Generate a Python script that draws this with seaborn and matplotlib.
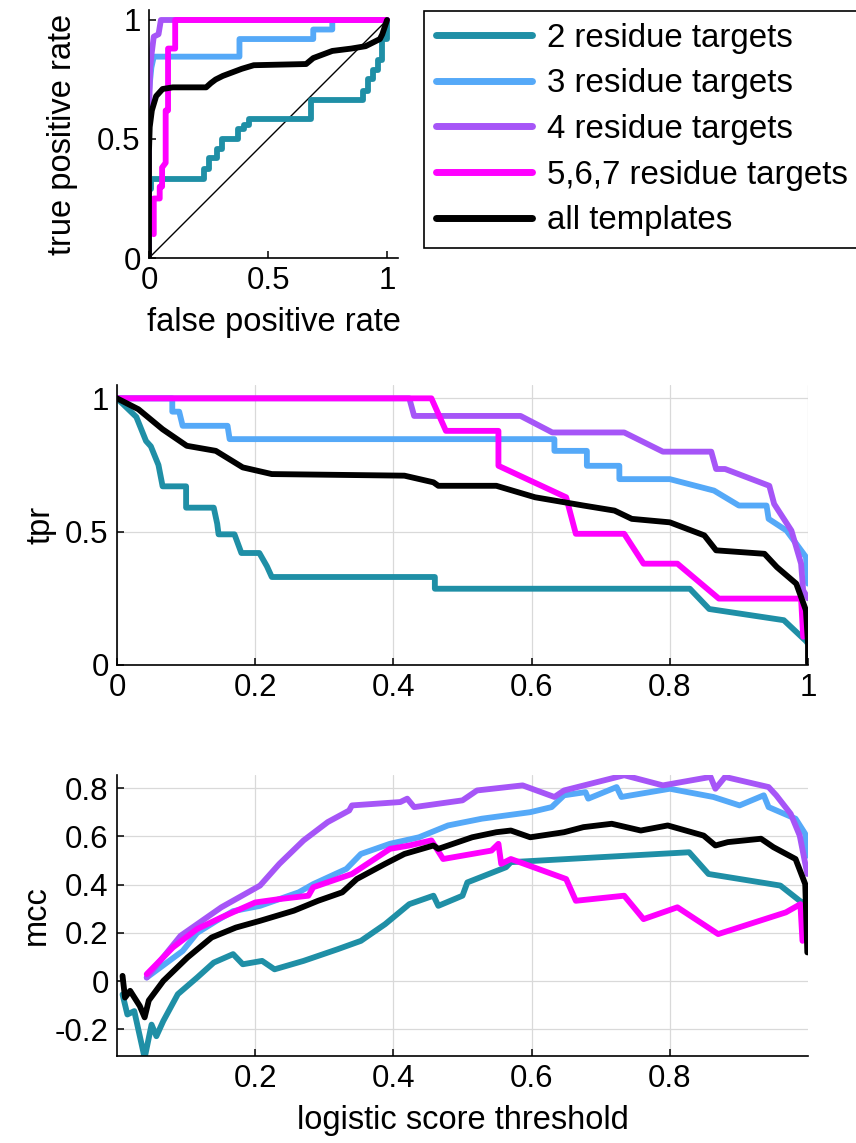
import matplotlib
matplotlib.use("Agg")
import matplotlib.pyplot as plt
import seaborn as sns
import pandas as pd

# ---------------- data ----------------
labels = ["2 residue targets", "3 residue targets", "4 residue targets",
          "5,6,7 residue targets", "all templates"]
colors = ["#1f8fa6", "#55a9f8", "#a655f7", "#ff00ff", "#000000"]

# ROC (false positive rate, true positive rate)
roc_fpr_2 = [0.0, 0.0, 0.01, 0.01, 0.23, 0.23, 0.25, 0.25, 0.285, 0.285, 0.305, 0.305, 0.375, 0.375,
             0.40, 0.40, 0.42, 0.42, 0.68, 0.68, 0.90, 0.90, 0.92, 0.92, 0.94, 0.94, 0.96, 0.96,
             0.98, 0.98, 1.0, 1.0]
roc_tpr_2 = [0.0, 0.29, 0.29, 0.33, 0.33, 0.375, 0.375, 0.42, 0.42, 0.46, 0.46, 0.50, 0.50, 0.54,
             0.54, 0.56, 0.56, 0.585, 0.585, 0.665, 0.665, 0.70, 0.70, 0.75, 0.75, 0.79, 0.79, 0.83,
             0.83, 0.92, 0.92, 1.0]
roc_fpr_3 = [0.0, 0.0, 0.01, 0.02, 0.38, 0.38, 0.69, 0.69, 0.77, 0.77, 1.0]
roc_tpr_3 = [0.0, 0.70, 0.80, 0.846, 0.846, 0.92, 0.92, 0.96, 0.96, 1.0, 1.0]
roc_fpr_4 = [0.0, 0.0, 0.005, 0.01, 0.02, 0.04, 0.05, 1.0]
roc_tpr_4 = [0.0, 0.60, 0.80, 0.85, 0.93, 0.94, 1.0, 1.0]
roc_fpr_5 = [0.02, 0.02, 0.045, 0.045, 0.055, 0.055, 0.07, 0.07, 0.08, 0.08, 0.11, 0.11, 1.0]
roc_tpr_5 = [0.10, 0.25, 0.25, 0.30, 0.30, 0.38, 0.40, 0.62, 0.62, 0.88, 0.88, 1.0, 1.0]
roc_fpr_all = [0.0, 0.0, 0.003, 0.012, 0.03, 0.057, 0.10, 0.24, 0.26, 0.28, 0.31, 0.35, 0.39, 0.44,
               0.66, 0.69, 0.77, 0.85, 0.91, 0.97, 0.98, 1.0]
roc_tpr_all = [0.0, 0.45, 0.55, 0.62, 0.68, 0.71, 0.717, 0.717, 0.735, 0.75, 0.765, 0.78, 0.795,
               0.81, 0.815, 0.84, 0.87, 0.88, 0.89, 0.92, 0.94, 1.0]

# tpr vs logistic score threshold
tpr_thr_2 = [0.0, 0.028, 0.042, 0.049, 0.06, 0.066, 0.10, 0.10, 0.14, 0.145, 0.147, 0.17, 0.18,
             0.206, 0.217, 0.224, 0.46, 0.46, 0.829, 0.857, 0.965, 0.997, 1.0]
tpr_val_2 = [1.0, 0.93, 0.84, 0.82, 0.75, 0.67, 0.67, 0.59, 0.59, 0.53, 0.49, 0.49, 0.42, 0.42,
             0.37, 0.33, 0.33, 0.286, 0.286, 0.21, 0.168, 0.09, 0.08]
tpr_thr_3 = [0.0, 0.08, 0.08, 0.09, 0.095, 0.16, 0.163, 0.633, 0.633, 0.68, 0.68, 0.727, 0.727,
             0.80, 0.864, 0.90, 0.94, 0.943, 0.969, 0.997, 1.0]
tpr_val_3 = [1.0, 1.0, 0.95, 0.95, 0.897, 0.897, 0.847, 0.847, 0.803, 0.803, 0.747, 0.747, 0.697,
             0.697, 0.654, 0.598, 0.598, 0.548, 0.504, 0.405, 0.305]
tpr_thr_4 = [0.0, 0.423, 0.43, 0.584, 0.63, 0.734, 0.79, 0.86, 0.867, 0.88, 0.944, 0.951, 0.976,
             0.99, 0.993, 1.0]
tpr_val_4 = [1.0, 1.0, 0.934, 0.934, 0.872, 0.872, 0.80, 0.80, 0.735, 0.735, 0.672, 0.604, 0.504,
             0.38, 0.28, 0.25]
tpr_thr_5 = [0.0, 0.455, 0.476, 0.552, 0.552, 0.65, 0.664, 0.734, 0.762, 0.811, 0.871, 0.99, 0.993]
tpr_val_5 = [1.0, 1.0, 0.878, 0.878, 0.747, 0.629, 0.492, 0.492, 0.38, 0.38, 0.249, 0.249, 0.106]
tpr_thr_all = [0.0, 0.031, 0.066, 0.101, 0.143, 0.182, 0.224, 0.416, 0.458, 0.465, 0.549, 0.605,
               0.675, 0.72, 0.745, 0.80, 0.85, 0.867, 0.937, 0.955, 0.983, 0.997, 1.0, 1.0]
tpr_val_all = [1.0, 0.959, 0.884, 0.822, 0.803, 0.741, 0.716, 0.71, 0.685, 0.672, 0.672, 0.629,
               0.598, 0.579, 0.548, 0.535, 0.486, 0.43, 0.417, 0.367, 0.305, 0.205, 0.08, 0.006]

# mcc vs logistic score threshold
mcc_thr_2 = [0.008, 0.015, 0.025, 0.04, 0.05, 0.057, 0.067, 0.088, 0.116, 0.14, 0.168, 0.182, 0.21,
             0.228, 0.27, 0.319, 0.353, 0.388, 0.423, 0.458, 0.465, 0.50, 0.507, 0.563, 0.57,
             0.828, 0.856, 0.96, 0.988, 0.996]
mcc_val_2 = [-0.055, -0.138, -0.124, -0.318, -0.18, -0.228, -0.165, -0.054, 0.015, 0.077, 0.112,
             0.07, 0.084, 0.049, 0.084, 0.132, 0.167, 0.236, 0.319, 0.354, 0.312, 0.354, 0.409,
             0.472, 0.493, 0.534, 0.444, 0.396, 0.333, 0.319]
mcc_thr_3 = [0.043, 0.095, 0.116, 0.144, 0.168, 0.207, 0.263, 0.284, 0.332, 0.353, 0.395, 0.437,
             0.479, 0.528, 0.598, 0.629, 0.647, 0.678, 0.682, 0.723, 0.73, 0.80, 0.863, 0.901,
             0.936, 0.943, 0.982, 0.996, 0.999]
mcc_val_3 = [0.015, 0.125, 0.20, 0.25, 0.29, 0.312, 0.368, 0.402, 0.465, 0.527, 0.569, 0.596,
             0.645, 0.673, 0.70, 0.721, 0.77, 0.783, 0.756, 0.804, 0.763, 0.797, 0.763, 0.728,
             0.77, 0.721, 0.673, 0.61, 0.52]
mcc_thr_4 = [0.043, 0.092, 0.151, 0.207, 0.235, 0.27, 0.305, 0.336, 0.34, 0.41, 0.42, 0.43, 0.50,
             0.521, 0.587, 0.633, 0.647, 0.734, 0.79, 0.859, 0.866, 0.88, 0.943, 0.954, 0.975,
             0.988, 0.999]
mcc_val_4 = [0.015, 0.188, 0.306, 0.396, 0.486, 0.583, 0.659, 0.707, 0.728, 0.742, 0.756, 0.721,
             0.749, 0.79, 0.811, 0.763, 0.79, 0.853, 0.811, 0.846, 0.797, 0.846, 0.804, 0.77,
             0.693, 0.603, 0.444]
mcc_thr_5 = [0.043, 0.081, 0.116, 0.151, 0.20, 0.235, 0.277, 0.284, 0.34, 0.395, 0.423, 0.455,
             0.472, 0.542, 0.552, 0.556, 0.57, 0.65, 0.664, 0.734, 0.762, 0.811, 0.87, 0.968,
             0.989, 0.992]
mcc_val_5 = [0.029, 0.14, 0.216, 0.264, 0.326, 0.34, 0.354, 0.389, 0.444, 0.548, 0.562, 0.583,
             0.506, 0.541, 0.569, 0.486, 0.506, 0.423, 0.333, 0.354, 0.257, 0.306, 0.195, 0.285,
             0.319, 0.167]
mcc_thr_all = [0.008, 0.0116, 0.019, 0.033, 0.04, 0.046, 0.067, 0.102, 0.137, 0.172, 0.207, 0.256,
               0.291, 0.326, 0.347, 0.388, 0.416, 0.458, 0.465, 0.514, 0.549, 0.57, 0.598, 0.647,
               0.675, 0.716, 0.758, 0.797, 0.849, 0.866, 0.884, 0.932, 0.95, 0.982, 0.996, 0.999]
mcc_val_all = [0.022, -0.068, -0.04, -0.103, -0.15, -0.08, 0.001, 0.098, 0.181, 0.222, 0.25,
               0.292, 0.333, 0.368, 0.423, 0.486, 0.527, 0.562, 0.548, 0.596, 0.617, 0.624,
               0.596, 0.617, 0.638, 0.652, 0.624, 0.645, 0.603, 0.562, 0.576, 0.59, 0.555,
               0.506, 0.402, 0.119]

# ---------------- style ----------------
sns.set_theme(style="white")
plt.rcParams["font.family"] = ["Liberation Sans", "DejaVu Sans"]
plt.rcParams["axes.linewidth"] = 1.2
plt.rcParams["axes.edgecolor"] = "black"
plt.rcParams["text.color"] = "black"
plt.rcParams["axes.labelcolor"] = "black"
plt.rcParams["xtick.color"] = "black"
plt.rcParams["ytick.color"] = "black"

FS_LABEL = 23.5
FS_TICK = 22.5
LW = 4.2

fig = plt.figure(figsize=(8.56, 11.43), dpi=100)
W, H = 856.0, 1143.0


def add_axes(l, t, r, b):
    return fig.add_axes([l / W, 1 - b / H, (r - l) / W, (b - t) / H])


def draw(ax, xs, ys):
    for i in range(len(xs)):
        df = pd.DataFrame({"x": xs[i], "y": ys[i]})
        sns.lineplot(data=df, x="x", y="y", ax=ax, sort=False, estimator=None,
                     color=colors[i], lw=LW, label=labels[i], legend=False,
                     solid_capstyle="round", solid_joinstyle="round")


def style(ax):
    sns.despine(ax=ax)
    ax.tick_params(direction="in", length=5, width=1.1, labelsize=FS_TICK, color="black",
                   labelcolor="black", left=True, bottom=True, pad=6)
    for s in ("left", "bottom"):
        ax.spines[s].set_color("black")
        ax.spines[s].set_linewidth(1.2)


# ---- ROC panel ----
ax1 = add_axes(149, 10, 398, 258)
ax1.plot([0, 1], [0, 1], color="black", lw=1.0)
draw(ax1, [roc_fpr_2, roc_fpr_3, roc_fpr_4, roc_fpr_5, roc_fpr_all],
     [roc_tpr_2, roc_tpr_3, roc_tpr_4, roc_tpr_5, roc_tpr_all])
ax1.set_xlim(0, 1.046)
ax1.set_ylim(0, 1.042)
ax1.set_xticks([0, 0.5, 1])
ax1.set_xticklabels(["0", "0.5", "1"])
ax1.set_yticks([0, 0.5, 1])
ax1.set_yticklabels(["0", "0.5", "1"])
ax1.set_xlabel("false positive rate", fontsize=FS_LABEL, labelpad=8)
ax1.set_ylabel("true positive rate", fontsize=FS_LABEL, labelpad=14)
style(ax1)

handles, hl = ax1.get_legend_handles_labels()
leg = fig.legend(handles[-5:], hl[-5:], loc="upper left",
                 bbox_to_anchor=(424 / W, 1 - 11 / H), fontsize=FS_LABEL + 0.3,
                 frameon=True, fancybox=False, edgecolor="black", framealpha=1,
                 handlelength=2.9, handletextpad=0.45, labelspacing=0.44,
                 borderpad=0.36, borderaxespad=0)
leg.get_frame().set_linewidth(1.2)
for lh in leg.get_lines():
    lh.set_linewidth(5)

# ---- tpr panel ----
ax2 = add_axes(117, 385, 808, 665)
draw(ax2, [tpr_thr_2, tpr_thr_3, tpr_thr_4, tpr_thr_5, tpr_thr_all],
     [tpr_val_2, tpr_val_3, tpr_val_4, tpr_val_5, tpr_val_all])
ax2.set_xlim(0, 1)
ax2.set_ylim(0, 1.05)
ax2.set_xticks([0, 0.2, 0.4, 0.6, 0.8, 1])
ax2.set_xticklabels(["0", "0.2", "0.4", "0.6", "0.8", "1"])
ax2.set_yticks([0, 0.5, 1])
ax2.set_yticklabels(["0", "0.5", "1"])
ax2.grid(True, color="#d9d9d9", lw=0.9)
ax2.set_axisbelow(True)
ax2.set_xlabel("")
ax2.set_ylabel("tpr", fontsize=FS_LABEL, labelpad=6)
style(ax2)

# ---- mcc panel ----
ax3 = add_axes(117, 775, 808, 1056)
draw(ax3, [mcc_thr_2, mcc_thr_3, mcc_thr_4, mcc_thr_5, mcc_thr_all],
     [mcc_val_2, mcc_val_3, mcc_val_4, mcc_val_5, mcc_val_all])
ax3.set_xlim(0.0, 1.0)
ax3.set_ylim(-0.31, 0.854)
ax3.set_xticks([0.2, 0.4, 0.6, 0.8])
ax3.set_xticklabels(["0.2", "0.4", "0.6", "0.8"])
ax3.set_yticks([-0.2, 0, 0.2, 0.4, 0.6, 0.8])
ax3.set_yticklabels(["-0.2", "0", "0.2", "0.4", "0.6", "0.8"])
ax3.grid(True, color="#d9d9d9", lw=0.9)
ax3.set_axisbelow(True)
ax3.set_xlabel("logistic score threshold", fontsize=FS_LABEL, labelpad=8)
ax3.set_ylabel("mcc", fontsize=FS_LABEL, labelpad=2)
style(ax3)

fig.savefig("out.png", dpi=100)
